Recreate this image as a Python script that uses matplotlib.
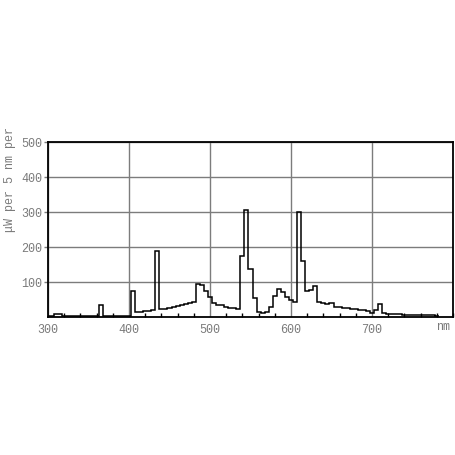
import numpy as np
import matplotlib
matplotlib.use("Agg")
import matplotlib.pyplot as plt
from matplotlib.ticker import MultipleLocator

# wavelength bin centres (nm) and spectral power (uW per 5 nm per lumen)
wavelength = list(range(300, 785, 5))
power = [
    3, 4, 9, 9, 3, 3, 3, 2, 2, 2,          # 300-345
    2, 2, 2, 33, 2, 2, 2, 2, 2, 3,          # 350-395
    3, 73, 14, 15, 16, 18, 20, 188, 22, 24, # 400-445
    27, 29, 31, 34, 37, 40, 44, 94, 92, 75, # 450-495
    56, 40, 35, 33, 30, 27, 25, 22, 173, 306, # 500-545
    138, 55, 13, 12, 13, 28, 61, 80, 72, 56,  # 550-595
    50, 42, 299, 160, 75, 78, 88, 42, 40, 37, # 600-645
    40, 30, 28, 27, 25, 24, 22, 20, 19, 18,   # 650-695
    12, 20, 36, 12, 9, 9, 8, 8, 7, 7,         # 700-745
    6, 6, 6, 5, 5, 5, 4,                      # 750-780
]
x_ticks = [300, 400, 500, 600, 700]
y_ticks = [100, 200, 300, 400, 500]
y_label = "μW per 5 nm per"
x_unit = "nm"

W = H = 456
fig = plt.figure(figsize=(W / 100, H / 100), dpi=100)
ax = fig.add_axes([48 / W, 1 - 318 / H, (453 - 48) / W, (318 - 143) / H])

centres = np.array(wavelength, dtype=float)
edges = np.concatenate([centres - 2.5, [centres[-1] + 2.5]])
ax.stairs(power, edges, color="black", lw=1.1, baseline=None, zorder=3)

ax.set_xlim(300, 800)
ax.set_ylim(0, 500)

font = "Liberation Mono"
grey = "#7a7a7a"

ax.xaxis.set_major_locator(plt.FixedLocator(x_ticks))
ax.xaxis.set_minor_locator(MultipleLocator(20))
ax.yaxis.set_major_locator(plt.FixedLocator(y_ticks))
ax.set_xticklabels([str(t) for t in x_ticks], fontfamily=font, fontsize=8.5, color=grey)
ax.set_yticklabels([str(t) for t in y_ticks], fontfamily=font, fontsize=8.5, color=grey)

ax.tick_params(axis="x", which="major", length=0, pad=4)
ax.tick_params(axis="x", which="minor", direction="in", length=3, width=1, color="black")
ax.tick_params(axis="y", which="major", direction="out", length=3, width=1, color=grey, pad=1)

ax.grid(True, which="major", color="#7c7c7c", lw=1.0, zorder=1)
for s in ax.spines.values():
    s.set_color("black")
    s.set_linewidth(1.3)
    s.set_zorder(4)

fig.text(443 / W, 1 - 327 / H, x_unit, fontfamily=font, fontsize=8.5, color=grey,
         ha="center", va="center")
fig.text(10 / W, 1 - 127 / H, y_label, fontfamily=font, fontsize=8.5, color=grey,
         rotation=90, ha="center", va="top")

fig.savefig("out.png", dpi=100, facecolor="white")
